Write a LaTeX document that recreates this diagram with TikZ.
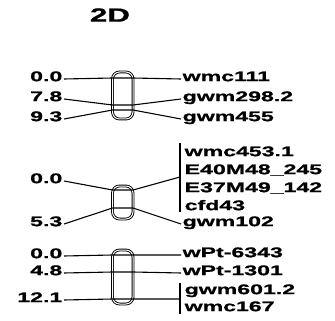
\documentclass[tikz,border=0pt]{standalone}
\usepackage{fontspec}
\newfontfamily\mapfont{Liberation Sans}[FakeStretch=1.65,BoldFeatures={FakeBold=1}]
\usepackage{tikz}

\begin{document}
\begin{tikzpicture}[
  x=1pt,y=-1pt,
  every node/.style={font=\mapfont\bfseries\fontsize{14}{16}\selectfont,inner xsep=1.5pt,inner ysep=1pt},
  dist/.style={anchor=mid east},
  locus/.style={anchor=mid west},
  link/.style={line width=1.1pt},
  chrom/.style={draw,line width=0.9pt,double=white,double distance=1pt,rounded corners=7pt},
  bracket/.style={line width=1.2pt}
]
  \useasboundingbox (0,0) rectangle (335,321);
  \node[font=\mapfont\bfseries\fontsize{19}{21}\selectfont] (title) at (110,15) {2D};

  % Gruppe 1: drei Loci, zwei davon gekreuzt
  \draw[chrom] (112.5,72) rectangle (133,119);
  \coordinate (l11) at (112.5,78);  \coordinate (r11) at (133,78);
  \coordinate (l12) at (112.5,105); \coordinate (r12) at (133,105);
  \coordinate (l13) at (112.5,110); \coordinate (r13) at (133,110);
  \node[dist] (d11) at (64,79) {0.0};
  \node[dist] (d12) at (64,99) {7.8};
  \node[dist] (d13) at (64,119) {9.3};
  \node[locus] (m11) at (181,79) {wmc111};
  \node[locus] (m12) at (181,99) {gwm298.2};
  \node[locus] (m13) at (181,119) {gwm455};
  \draw[link] (d11.mid east) -- (l11) -- (r11) -- (m11.mid west);
  \draw[link] (d12.mid east) -- (l12) -- (r12) -- (m12.mid west);
  \draw[link] (d13.mid east) -- (l13) -- (r13) -- (m13.mid west);

  % Gruppe 2: vier Loci auf 0.0 mit Klammer
  \draw[chrom] (112.5,186) rectangle (133,219);
  \coordinate (l21) at (112.5,190); \coordinate (r21) at (133,190);
  \coordinate (l22) at (112.5,208); \coordinate (r22) at (133,208);
  \node[dist] (d21) at (64,181) {0.0};
  \node[dist] (d22) at (64,224) {5.3};
  \node[locus] (m21) at (183,154) {wmc453.1};
  \node[locus] (m22) at (183,172) {E40M48\_245};
  \node[locus] (m23) at (183,190) {E37M49\_142};
  \node[locus] (m24) at (183,208) {cfd43};
  \node[locus] (m25) at (181,224) {gwm102};
  \coordinate (b2t) at (180,143); \coordinate (b2b) at (180,212);
  \coordinate (b2m) at (180,177);
  \draw[bracket] (b2t) -- (b2b);
  \draw[link] (d21.mid east) -- (l21) -- (r21) -- (b2m);
  \draw[link] (d22.mid east) -- (l22) -- (r22) -- (m25.mid west);

  % Gruppe 3
  \draw[chrom] (112.5,250) rectangle (133,304);
  \coordinate (l31) at (112.5,255); \coordinate (r31) at (133,255);
  \coordinate (l32) at (112.5,272); \coordinate (r32) at (133,272);
  \coordinate (l33) at (112.5,299); \coordinate (r33) at (133,299);
  \node[dist] (d31) at (64,256) {0.0};
  \node[dist] (d32) at (64,273) {4.8};
  \node[dist] (d33) at (64,300) {12.1};
  \node[locus] (m31) at (181,255) {wPt-6343};
  \node[locus] (m32) at (181,273) {wPt-1301};
  \node[locus] (m33) at (183,292) {gwm601.2};
  \node[locus] (m34) at (183,309) {wmc167};
  \coordinate (b3t) at (180,283); \coordinate (b3b) at (180,314);
  \coordinate (b3m) at (180,299);
  \draw[bracket] (b3t) -- (b3b);
  \draw[link] (d31.mid east) -- (l31) -- (r31) -- (m31.mid west);
  \draw[link] (d32.mid east) -- (l32) -- (r32) -- (m32.mid west);
  \draw[link] (d33.mid east) -- (l33) -- (r33) -- (b3m);
\end{tikzpicture}
\end{document}
